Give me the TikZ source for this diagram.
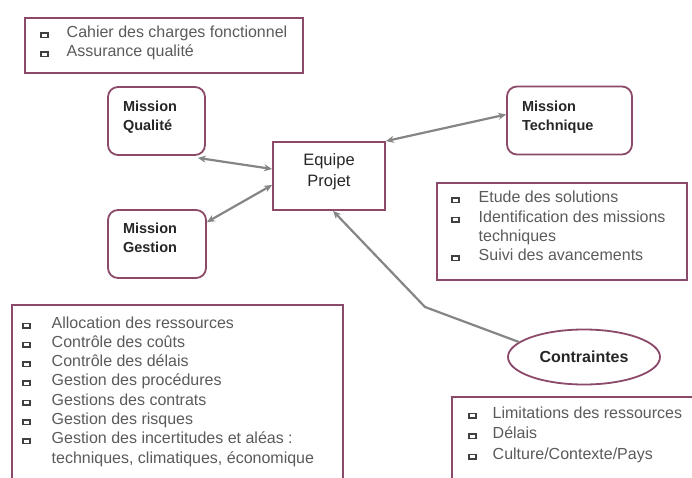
\documentclass[tikz,border=0pt]{standalone}
\usepackage{fontspec}
\setmainfont{Liberation Sans}
\usetikzlibrary{arrows.meta,shapes.geometric}
\definecolor{framec}{HTML}{8C4A6A}
\definecolor{connc}{HTML}{858585}
\definecolor{listtxt}{HTML}{5A5A5A}
\definecolor{bulc}{HTML}{404040}
\newcommand\bsq{\raisebox{1.0pt}{\setlength{\fboxsep}{0pt}\setlength{\fboxrule}{1.5pt}\fcolorbox{bulc}{white}{\rule{5.5pt}{0pt}\rule{0pt}{3pt}}}}
\begin{document}
\begin{tikzpicture}[x=1pt,y=-1pt,
  >={Stealth[length=8pt,width=7pt]},
  framebox/.style={draw=framec,line width=1.8pt},
  mission/.style={framebox,rounded corners=10pt,align=left,
    font=\fontsize{14.5}{18.5}\selectfont\bfseries,text=black!85,
    inner xsep=15pt,inner ysep=0pt,minimum height=68pt},
  listtext/.style={inner sep=0pt,anchor=base west,text=listtxt},
  link/.style={draw=connc,line width=2.2pt}
]
\useasboundingbox (0,0) rectangle (692,478);
\clip (0,0) rectangle (692,478);

% list frames
\draw[framebox] (25,18) rectangle (303,73);
\draw[framebox] (437,183) rectangle (687,280);
\draw[framebox] (12,305) rectangle (343,495);
\draw[framebox] (452,397) rectangle (705,495);

% list texts
\node[listtext,font=\fontsize{16}{19}\selectfont] (lq) at (40,38)
  {\begin{tabular}[t]{@{}l@{\hspace{18pt}}l@{}}
   \bsq & Cahier des charges fonctionnel\\
   \bsq & Assurance qualité
   \end{tabular}};
\node[listtext,font=\fontsize{16}{19.3}\selectfont] (lt) at (451,203)
  {\begin{tabular}[t]{@{}l@{\hspace{19pt}}l@{}}
   \bsq & Etude des solutions\\
   \bsq & Identification des missions\\
        & techniques\\
   \bsq & Suivi des avancements
   \end{tabular}};
\node[listtext,font=\fontsize{16}{19.3}\selectfont] (lg) at (22,328)
  {\begin{tabular}[t]{@{}l@{\hspace{21pt}}l@{}}
   \bsq & Allocation des ressources\\
   \bsq & Contrôle des coûts\\
   \bsq & Contrôle des délais\\
   \bsq & Gestion des procédures\\
   \bsq & Gestions des contrats\\
   \bsq & Gestion des risques\\
   \bsq & Gestion des incertitudes et aléas :\\
        & techniques, climatiques, économique
   \end{tabular}};
\node[listtext,font=\fontsize{16}{20.5}\selectfont] (lc) at (468,418)
  {\begin{tabular}[t]{@{}l@{\hspace{16pt}}l@{}}
   \bsq & Limitations des ressources\\
   \bsq & Délais\\
   \bsq & Culture/Contexte/Pays
   \end{tabular}};

% main nodes
\node[mission,text width=67pt] (mq) at (156.5,121) {Mission\\Qualité\\[-8pt]\mbox{}};
\node[mission,text width=68pt] (mg) at (157,244) {Mission\\Gestion\\[-6pt]\mbox{}};
\node[mission,text width=95pt] (mt) at (569.5,120.5) {Mission\\Technique\\[-9pt]\mbox{}};
\node[framebox,align=center,minimum width=112pt,minimum height=68pt,inner sep=0pt,
  font=\fontsize{16.5}{21}\selectfont,text=black!85] (ep) at (329,176) {Equipe\\Projet\\[-9pt]\mbox{}};
\node[framebox,ellipse,minimum width=152pt,minimum height=55pt,inner sep=0pt,
  font=\fontsize{16}{19}\selectfont\bfseries,text=black!85] (ct) at (584,357) {Contraintes};
\coordinate (bend) at (425,307);

% connectors
\draw[link,<->] ([xshift=-8pt,yshift=-2pt]mq.south east) -- ([yshift=7pt]ep.west);
\draw[link,<->] ([yshift=-13pt]mg.north east) -- ([yshift=-9pt]ep.west);
\draw[link,<->] (ep.north east) -- ([yshift=6pt]mt.west);
\draw[link,->] (ct.167) -- (bend) -- ([xshift=4pt]ep.south);
\end{tikzpicture}
\end{document}
